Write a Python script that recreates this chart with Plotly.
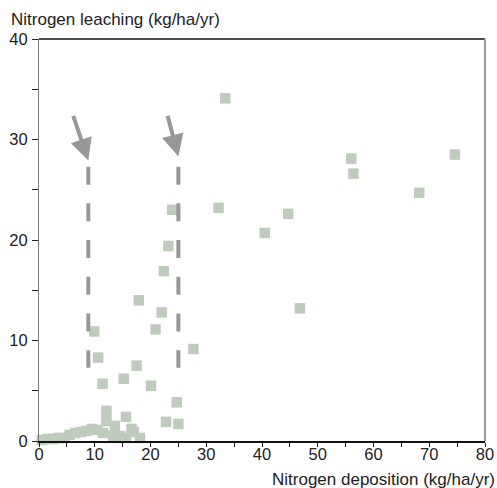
import plotly.graph_objects as go

# Data
deposition = [0.5, 1.5, 2.5, 3.5, 4.5, 5.5, 6.5, 7.5, 8.5, 9.5, 10.5, 11.5, 12.1, 12.1,
              13.3, 13.6, 14.5, 15.6, 16.6, 17.0, 18.1,
              9.9, 10.6, 11.4, 15.2, 17.5, 17.9, 20.1, 20.9, 22.0, 22.4, 22.8, 23.2, 23.9,
              24.7, 25.0, 27.7, 32.2, 33.4, 40.5, 44.7, 46.8, 56.0, 56.4, 68.2, 74.6, 15.6]
leaching = [0.1, 0.2, 0.2, 0.3, 0.3, 0.6, 0.8, 0.9, 1.0, 1.2, 1.1, 0.8, 3.0, 2.0,
            0.5, 1.5, 0.5, 2.4, 1.2, 0.9, 0.3,
            10.9, 8.3, 5.7, 6.2, 7.5, 14.0, 5.5, 11.1, 12.8, 16.9, 1.9, 19.4, 23.0,
            3.85, 1.7, 9.15, 23.2, 34.1, 20.7, 22.6, 13.2, 28.1, 26.6, 24.7, 28.5, 0.3]

x_ticks = [0, 10, 20, 30, 40, 50, 60, 70, 80]
y_ticks = [0, 10, 20, 30, 40]
thresholds = [8.85, 25.0]

GRAY = "#98989b"
FONT = "Liberation Sans, Arial, sans-serif"

fig = go.Figure()
fig.add_trace(go.Scatter(
    x=deposition, y=leaching, mode="markers",
    marker=dict(symbol="square", size=10.5, color="#bfcbbd", line=dict(width=0)),
    cliponaxis=False, hoverinfo="skip",
))

shapes = []
for t in thresholds:
    shapes.append(dict(type="line", xref="x", yref="y", x0=t, x1=t, y0=27.3, y1=7.3,
                       line=dict(color=GRAY, width=4, dash="18px,18.7px")))
# frame: top black, right gray
shapes.append(dict(type="line", xref="paper", yref="paper", x0=0, x1=1, y0=1, y1=1,
                   line=dict(color="#111111", width=1.5)))
shapes.append(dict(type="line", xref="paper", yref="paper", x0=1, x1=1, y0=0, y1=1,
                   line=dict(color="#999999", width=2)))

annotations = [
    dict(x=thresholds[0], y=27.9, ax=6.05, ay=32.5, xref="x", yref="y", axref="x", ayref="y",
         showarrow=True, arrowhead=2, arrowsize=1.1, arrowwidth=4, arrowcolor=GRAY, text=""),
    dict(x=thresholds[1], y=28.3, ax=23.0, ay=32.5, xref="x", yref="y", axref="x", ayref="y",
         showarrow=True, arrowhead=2, arrowsize=1.1, arrowwidth=4, arrowcolor=GRAY, text=""),
    dict(text="Nitrogen leaching (kg/ha/yr)", xref="paper", yref="paper", x=-0.068, y=1.049,
         xanchor="left", yanchor="middle", showarrow=False,
         font=dict(family=FONT, size=17, color="#222222")),
    dict(text="Nitrogen deposition (kg/ha/yr)", xref="paper", yref="paper", x=1.028, y=-0.0955,
         xanchor="right", yanchor="middle", showarrow=False,
         font=dict(family=FONT, size=17, color="#222222")),
]

fig.update_layout(
    width=497, height=488,
    margin=dict(l=39, r=12, t=38.5, b=46.5, autoexpand=False),
    paper_bgcolor="white", plot_bgcolor="white",
    showlegend=False,
    shapes=shapes, annotations=annotations,
    font=dict(family=FONT, size=16, color="#222222"),
    xaxis=dict(range=[0, 80], tickvals=x_ticks, ticks="outside", ticklen=4, tickwidth=1,
               tickcolor="#222222", showline=True, linecolor="#111111", linewidth=1.5,
               showgrid=False, zeroline=False, fixedrange=True, automargin=False,
               ticklabelstandoff=-7, tickfont=dict(size=16.5),
               minor=dict(dtick=5, tick0=0, ticks="outside", ticklen=4, tickcolor="#222222")),
    yaxis=dict(range=[0, 40], tickvals=y_ticks, ticks="outside", ticklen=6, tickwidth=1,
               tickcolor="#222222", showline=True, linecolor="#777777", linewidth=1,
               showgrid=False, zeroline=False, fixedrange=True, automargin=False,
               ticklabelstandoff=1, tickfont=dict(size=16.5),
               minor=dict(dtick=5, tick0=0, ticks="outside", ticklen=6, tickcolor="#222222")),
)

fig.write_html("out.html")
